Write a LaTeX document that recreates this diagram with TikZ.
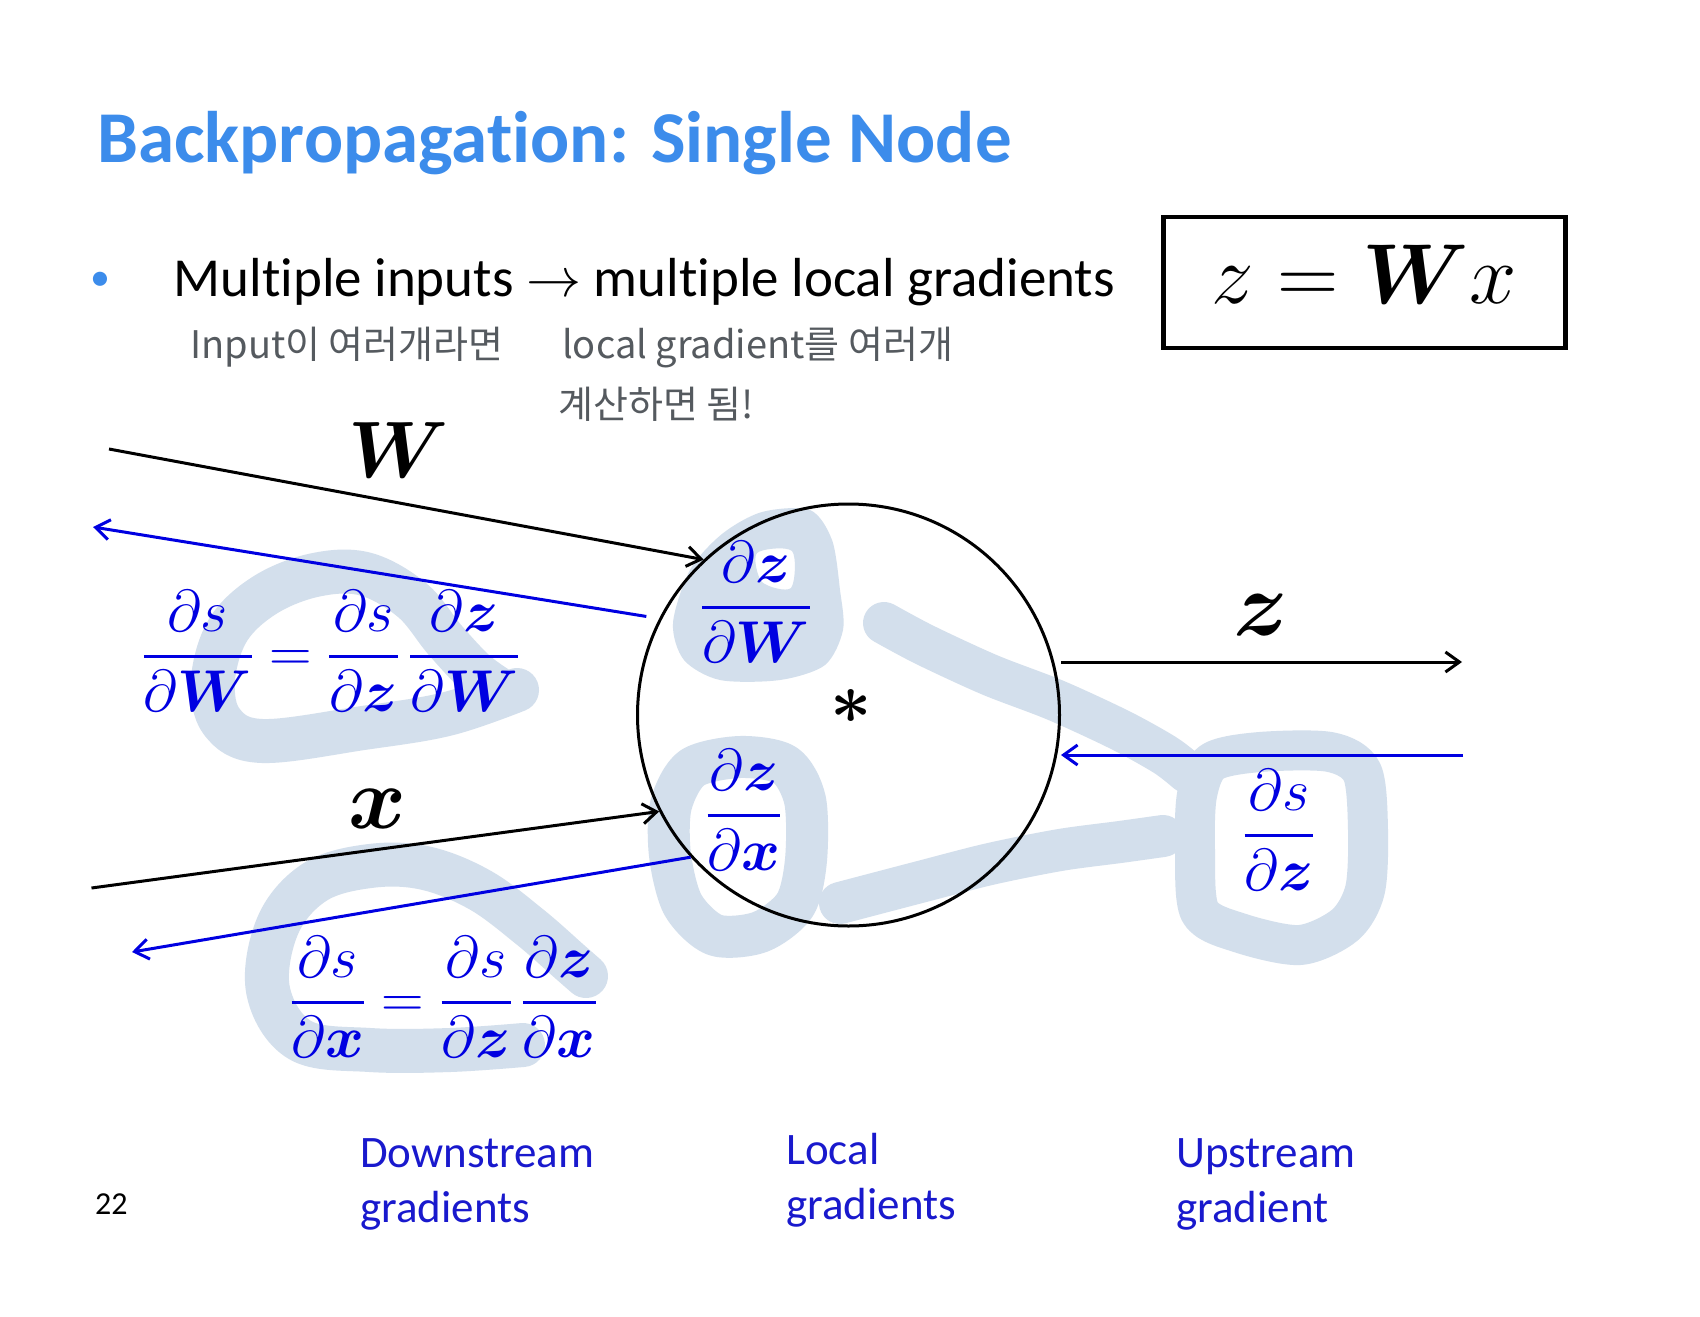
\RequirePackage{fix-cm}
\documentclass[tikz,border=0pt]{standalone}
\usepackage{amsmath}
\usepackage[no-math]{fontspec}
\setmainfont{Carlito}[Ligatures=NoCommon]
\newfontfamily\krfont{Noto Sans CJK KR}
\usetikzlibrary{arrows.meta}
\definecolor{titleblue}{RGB}{60,140,235}
\definecolor{mblue}{RGB}{0,0,225}
\definecolor{lblue}{RGB}{25,25,205}
\definecolor{hl}{RGB}{211,223,236}
\definecolor{hand}{RGB}{85,90,95}
\newcommand\ff[2]{\genfrac{}{}{3.2pt}{0}{#1}{#2}}
\tikzset{
  hlstroke/.style={draw=hl, line width=44pt, line cap=round, line join=round},
  fwd/.style={draw=black, line width=3pt, -{Straight Barb[length=14pt,width=20pt]}},
  bwd/.style={draw=mblue, line width=3pt, -{Straight Barb[length=14pt,width=20pt]}},
  fracnode/.style={text=mblue, inner sep=0pt, anchor=base, font=\fontsize{59}{70}\selectfont},
  biglbl/.style={inner sep=0pt, anchor=center},
  handtxt/.style={text=hand, inner sep=0pt, anchor=base west, font=\krfont\fontsize{38}{46}\selectfont},
  botlbl/.style={text=lblue, inner sep=0pt, anchor=base west, align=left, font=\fontsize{45}{55}\selectfont},
}
\begin{document}
\begin{tikzpicture}[x=1pt,y=-1pt]
\fill[white] (0,0) rectangle (1700,1317);
\useasboundingbox (0,0) rectangle (1700,1317);

% highlighter strokes
\draw[hlstroke] plot[smooth, tension=0.6] coordinates {(517,690) (447,714) (363,728) (262,741) (222,722) (213,680) (228,630) (265,595) (315,575) (365,574) (412,600) (445,640) (475,672) (500,690)};
\draw[hlstroke] plot[smooth, tension=0.6] coordinates {(523,1045) (450,1050) (370,1050) (300,1040) (268,990) (278,925) (315,882) (370,866) (425,868) (480,890) (530,927) (570,962) (586,976)};
\fill[hl, even odd rule] plot[smooth cycle] coordinates {(673,623) (690,570) (722,534) (762,512) (810,510) (832,540) (840,590) (843,630) (825,665) (780,680) (720,680) (684,660)}
  plot[smooth cycle] coordinates {(757,553) (792,551) (791,588) (762,582)};
\draw[hlstroke, line width=42pt] plot[smooth cycle] coordinates {(671,805) (692,768) (740,757) (785,765) (805,800) (806,860) (795,905) (760,932) (715,935) (683,905) (670,855)};
\draw[hlstroke, line width=42pt] plot[smooth] coordinates {(884,623) (925,645) (990,675) (1055,700) (1120,730) (1165,755) (1187,772)};
\draw[hlstroke, line width=42pt] plot[smooth] coordinates {(840,903) (920,882) (990,864) (1060,850) (1120,842) (1163,836)};
\draw[hlstroke, line width=40pt] plot[smooth cycle] coordinates {(1197,795) (1212,762) (1260,752) (1330,752) (1362,772) (1368,830) (1365,890) (1345,925) (1300,945) (1240,933) (1200,912) (1195,850)};

% title and bullet
\node[inner sep=0pt, anchor=base west, text=titleblue, font=\bfseries\fontsize{73}{88}\selectfont] (title) at (97,162) {Backpropagation: Single Node};
\node[inner sep=0pt, anchor=base, text=titleblue, font=\fontsize{40}{48}\selectfont] (bullet) at (100,290) {•};
\node[inner sep=0pt, anchor=base west, font=\fontsize{55}{66}\selectfont] (point) at (173.5,296) {Multiple inputs $\rightarrow$ multiple local gradients};

% handwritten note
\node[handtxt] (hand1) at (190,358) {Input이 여러개라면};
\node[handtxt] (hand2) at (562,358) {local gradient를 여러개};
\node[handtxt] (hand3) at (558,418) {계산하면 됨!};

% equation box
\node[draw, line width=4.3pt, minimum width=402pt, minimum height=131pt, inner sep=0pt] (eqbox) at (1364.4,282.5) {};
\node[inner sep=0pt, anchor=base, font=\fontsize{85}{100}\selectfont] (eq) at (1364,303.6) {$z = \boldsymbol{W} x$};

% node circle
\node[circle, draw, line width=3pt, minimum size=422pt, inner sep=0pt] (nd) at (848.5,715) {};
\node[biglbl, font=\fontsize{72}{86}\selectfont] (star) at (851,706) {$\boldsymbol{\ast}$};

% labels
\node[biglbl, font=\fontsize{80}{96}\selectfont] (Wlbl) at (399,450) {$\boldsymbol{W}$};
\node[biglbl, font=\fontsize{88}{106}\selectfont] (xlbl) at (377,809) {$\boldsymbol{x}$};
\node[biglbl, font=\fontsize{92}{110}\selectfont] (zlbl) at (1261,615) {$\boldsymbol{z}$};

% coordinates
\coordinate (Win) at (109,449);
\coordinate (Wback) at (93,527);
\coordinate (xin) at (91.5,888);
\coordinate (xback) at (132,952);
\coordinate (zout) at (1462,662);
\coordinate (zback) at (1463,755);

% arrows
\draw[fwd] (Win) -- (nd.133.6);
\draw[bwd, shorten <=13pt] (nd.153) -- (Wback);
\draw[fwd] (xin) -- (nd.207.2);
\draw[bwd] (nd.222.5) -- (xback);
\draw[fwd] (zout -| nd.east) -- (zout);
\draw[bwd] (zback) -- (zback -| nd.east);

% fractions
\node[fracnode] (gW) at (331,671) {$\displaystyle \ff{\partial s}{\partial \boldsymbol{W}} = \ff{\partial s}{\partial \boldsymbol{z}}\,\ff{\partial \boldsymbol{z}}{\partial \boldsymbol{W}}$};
\node[fracnode] (gx) at (443.5,1017) {$\displaystyle \ff{\partial s}{\partial \boldsymbol{x}} = \ff{\partial s}{\partial \boldsymbol{z}}\,\ff{\partial \boldsymbol{z}}{\partial \boldsymbol{x}}$};
\node[fracnode] (lW) at (756,622) {$\displaystyle \ff{\partial \boldsymbol{z}}{\partial \boldsymbol{W}}$};
\node[fracnode] (lx) at (744,830) {$\displaystyle \ff{\partial \boldsymbol{z}}{\partial \boldsymbol{x}}$};
\node[fracnode] (up) at (1279,850) {$\displaystyle \ff{\partial s}{\partial \boldsymbol{z}}$};

% bottom labels
\node[botlbl] (down) at (360,1222) {Downstream\\gradients};
\node[botlbl] (loc) at (786,1219) {Local\\gradients};
\node[botlbl] (upl) at (1176,1222) {Upstream\\gradient};
\node[inner sep=0pt, anchor=base west, font=\fontsize{32}{38}\selectfont] (pg) at (95,1214) {22};
\end{tikzpicture}
\end{document}
